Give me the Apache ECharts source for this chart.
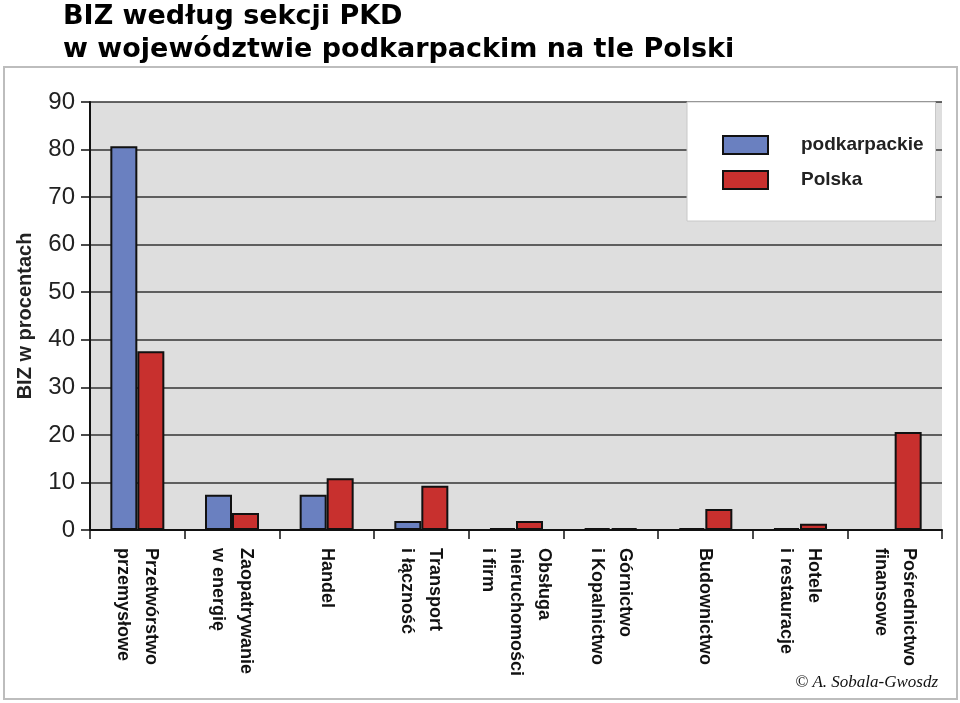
<!DOCTYPE html>
<html>
<head>
<meta charset="utf-8">
<script src="https://cdn.jsdelivr.net/npm/echarts@6/dist/echarts.min.js"></script>
<style>
  html, body { margin: 0; padding: 0; background: #fff; }
  #main { width: 960px; height: 703px; }
</style>
</head>
<body>
<div id="main"></div>
<script>
// dane
var sekcje = [
  'Przetwórstwo\nprzemysłowe',
  'Zaopatrywanie\nw energię',
  'Handel',
  'Transport\ni łączność',
  'Obsługa\nnieruchomości\ni firm',
  'Górnictwo\ni Kopalnictwo',
  'Budownictwo',
  'Hotele\ni restauracje',
  'Pośrednictwo\nfinansowe'
];
var podkarpackie = [80.7, 7.4, 7.4, 1.9, 0.4, 0.4, 0.4, 0.4, null];
var polska = [37.6, 3.6, 10.9, 9.3, 1.9, 0.4, 4.4, 1.3, 20.6];

var myChart = echarts.init(document.getElementById('main'));

var narrow = '"Liberation Sans Narrow", "Arial Narrow", "Liberation Sans", sans-serif';

var option = {
  backgroundColor: '#fff',
  animation: false,
  title: {
    text: 'BIZ według sekcji PKD\nw województwie podkarpackim na tle Polski',
    left: 58,
    top: -5,
    textStyle: {
      fontFamily: '"DejaVu Sans", Verdana, sans-serif',
      fontWeight: 'bold',
      fontSize: 27,
      lineHeight: 33,
      color: '#000'
    }
  },
  graphic: [
    {
      type: 'rect',
      z: -1,
      shape: { x: 4, y: 67, width: 953, height: 632 },
      style: { fill: 'none', stroke: '#bdbdbd', lineWidth: 2 }
    },
    {
      type: 'text',
      right: 22,
      top: 674,
      style: {
        text: '© A. Sobala-Gwosdz',
        font: 'italic 17px "Liberation Serif", serif',
        fill: '#111'
      }
    }
  ],
  legend: {
    orient: 'vertical',
    left: 687,
    top: 102,
    padding: [33, 12, 31, 35],
    itemWidth: 45,
    itemHeight: 18,
    itemGap: 15,
    icon: 'rect',
    backgroundColor: '#fff',
    borderColor: '#c8c8c8',
    borderWidth: 1,
    textStyle: {
      fontFamily: narrow,
      fontWeight: 'bold',
      fontSize: 19,
      color: '#222',
      padding: [0, 0, 0, 28]
    },
    data: ['podkarpackie', 'Polska']
  },
  grid: {
    left: 90,
    right: 18,
    top: 102,
    bottom: 173,
    show: true,
    backgroundColor: '#dedede',
    borderWidth: 0
  },
  xAxis: {
    type: 'category',
    data: sekcje,
    axisLine: { lineStyle: { color: '#111', width: 2 } },
    axisTick: { show: true, length: 9, lineStyle: { color: '#111', width: 1.5 } },
    axisLabel: {
      rotate: -90,
      interval: 0,
      margin: 18,
      fontFamily: '"Liberation Sans", Arial, sans-serif',
      fontWeight: 'bold',
      fontSize: 18,
      lineHeight: 28,
      color: '#111'
    }
  },
  yAxis: {
    type: 'value',
    min: 0,
    max: 90,
    interval: 10,
    name: 'BIZ w procentach',
    nameLocation: 'middle',
    nameRotate: 90,
    nameGap: 55,
    nameTextStyle: {
      fontFamily: narrow,
      fontWeight: 'bold',
      fontSize: 20,
      color: '#222'
    },
    axisLine: { show: true, lineStyle: { color: '#111', width: 2 } },
    axisTick: { show: true, length: 9, lineStyle: { color: '#111', width: 1.5 } },
    axisLabel: {
      margin: 15,
      fontFamily: narrow,
      fontSize: 24,
      color: '#222'
    },
    splitLine: { lineStyle: { color: '#333', width: 1.5 } }
  },
  series: [
    {
      name: 'podkarpackie',
      type: 'bar',
      data: podkarpackie,
      barWidth: 27,
      barGap: '0%',
      itemStyle: { color: '#6a80c0', borderColor: '#111', borderWidth: 2 }
    },
    {
      name: 'Polska',
      type: 'bar',
      data: polska,
      barWidth: 27,
      barGap: '0%',
      itemStyle: { color: '#c8302e', borderColor: '#111', borderWidth: 2 }
    }
  ]
};

myChart.setOption(option);
</script>
</body>
</html>
